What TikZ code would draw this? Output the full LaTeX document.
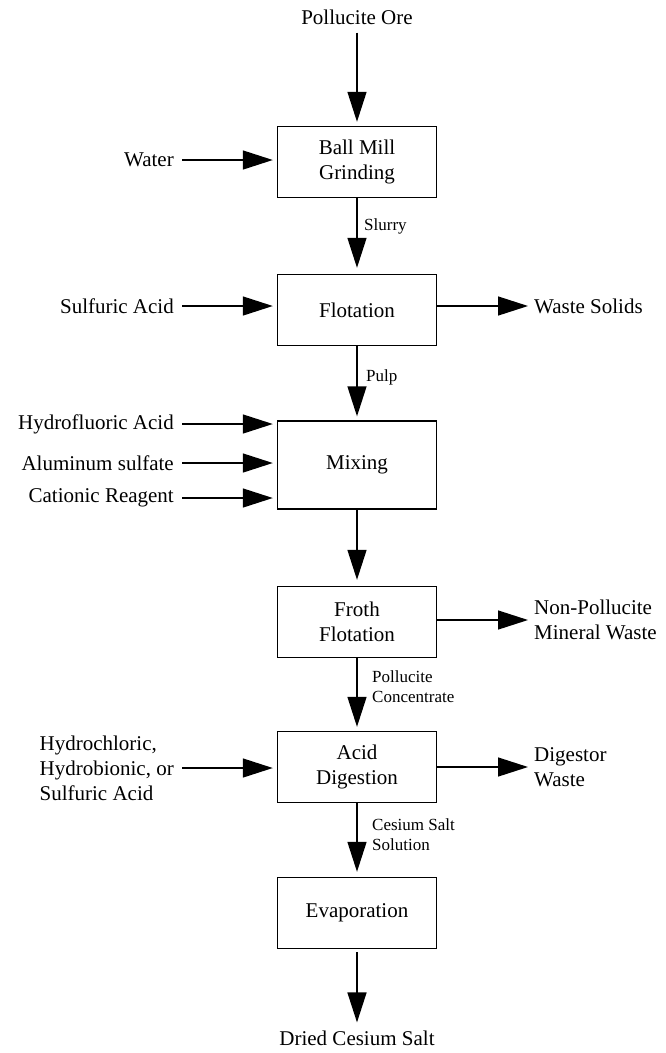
\documentclass[tikz,border=0pt]{standalone}
\usepackage{fontspec}
\setmainfont{Liberation Serif}
\usetikzlibrary{arrows.meta}
\begin{document}
\begin{tikzpicture}[x=1pt,y=-1pt,
  box/.style={draw,line width=1.4pt,minimum width=159pt,minimum height=71pt,align=center,inner sep=0pt,font=\fontsize{21}{25}\selectfont},
  txt/.style={inner sep=0pt,font=\fontsize{21}{25}\selectfont},
  lbl/.style={inner sep=0pt,font=\fontsize{17}{20}\selectfont,align=left,anchor=west},
  arr/.style={line width=1.4pt,-{Triangle[length=30pt,width=19pt]}}
]
\useasboundingbox (0,0) rectangle (665,1053);

% process units
\node[box] (ball) at (357,162) {Ball Mill\\Grinding};
\node[box] (flot) at (357,310) {Flotation};
\node[box,minimum height=88pt] (mix) at (357,465) {Mixing};
\node[box] (froth) at (357,622) {Froth\\Flotation};
\node[box] (acid) at (357,767) {Acid\\Digestion};
\node[box] (evap) at (357,913) {Evaporation};

% feeds and products
\node[txt] (ore) at (357,17) {Pollucite Ore};
\node[txt,anchor=east] (water) at (174,160) {Water};
\node[txt,anchor=east] (sulf) at (174,306) {Sulfuric Acid};
\node[txt,anchor=west] (waste) at (534,306) {Waste Solids};
\node[txt,anchor=east] (hf) at (174,424) {Hydrofluoric Acid};
\node[txt,anchor=east] (al) at (174,463) {Aluminum sulfate};
\node[txt,anchor=east] (cat) at (174,498) {Cationic Reagent};
\node[txt,anchor=west,align=left] (nonp) at (534,620) {Non-Pollucite\\Mineral Waste};
\node[txt,anchor=east,align=left] (hcl) at (174,768) {Hydrochloric,\\Hydrobionic, or\\Sulfuric Acid};
\node[txt,anchor=west,align=left] (dig) at (534,767) {Digestor\\Waste};
\node[txt] (dried) at (357,1038) {Dried Cesium Salt};

% stream labels
\node[lbl] (slurry) at (364,226) {Slurry};
\node[lbl] (pulp) at (366,377) {Pulp};
\node[lbl] (conc) at (372,687) {Pollucite\\Concentrate};
\node[lbl] (sol) at (372,835) {Cesium Salt\\Solution};

% main line
\draw[arr,shorten <=8pt,shorten >=4pt] (ore) -- (ball);
\draw[arr,shorten >=6pt] (ball) -- (flot);
\draw[arr,shorten >=4pt] (flot) -- (mix);
\draw[arr,shorten >=6pt] (mix) -- (froth);
\draw[arr,shorten >=4pt] (froth) -- (acid);
\draw[arr,shorten >=5pt] (acid) -- (evap);
\draw[arr,shorten <=3pt,shorten >=8pt] (evap) -- (dried);

% side feeds
\draw[arr,shorten <=8pt,shorten >=4pt] (water.east) -- (water.east -| ball.west);
\draw[arr,shorten <=8pt,shorten >=4pt] (sulf.east) -- (sulf.east -| flot.west);
\draw[arr,shorten <=8pt,shorten >=4pt] (hf.east) -- (hf.east -| mix.west);
\draw[arr,shorten <=8pt,shorten >=4pt] (al.east) -- (al.east -| mix.west);
\draw[arr,shorten <=8pt,shorten >=4pt] (cat.east) -- (cat.east -| mix.west);
\draw[arr,shorten <=8pt,shorten >=4pt] (hcl.east) -- (hcl.east -| acid.west);

% side products
\draw[arr,shorten >=6pt] (waste.west -| flot.east) -- (waste.west);
\draw[arr,shorten >=6pt] (nonp.west -| froth.east) -- (nonp.west);
\draw[arr,shorten >=6pt] (dig.west -| acid.east) -- (dig.west);
\end{tikzpicture}
\end{document}
